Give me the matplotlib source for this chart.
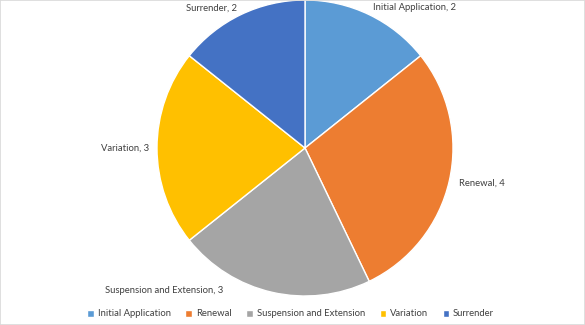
import matplotlib.pyplot as plt
from matplotlib.patches import Rectangle

plt.rcParams["font.family"] = ["Lato", "DejaVu Sans"]

categories = ["Initial Application", "Renewal", "Suspension and Extension", "Variation", "Surrender"]
values = [2, 4, 3, 3, 2]
colors = ["#5B9BD5", "#ED7D31", "#A5A5A5", "#FFC000", "#4472C4"]

# label placement (pie radius units) and alignment
label_pos = [(0.74, 0.95, "center"), (1.04, -0.24, "left"), (-0.95, -0.96, "center"),
             (-1.05, 0.0, "right"), (-0.635, 0.946, "center")]

W, H = 585, 325
cx, cy, r = 305, 148, 148

fig = plt.figure(figsize=(W / 100, H / 100), dpi=100)
ax = fig.add_axes([0, 0, 1, 1])
ax.axis("off")

wedges, _ = ax.pie(values, colors=colors, startangle=90, counterclock=False, radius=1.0,
                   wedgeprops=dict(edgecolor="white", linewidth=1))
ax.set_xlim(-cx / r, (W - cx) / r)
ax.set_ylim(-(H - cy) / r, cy / r)
ax.set_aspect("auto")

for cat, v, (lx, ly, ha) in zip(categories, values, label_pos):
    ax.text(lx, ly, f"{cat}, {v}", ha=ha, va="center", fontsize=6.8, color="#404040")

leg = fig.legend(wedges, categories, loc="center", bbox_to_anchor=(0.497, 1 - 314 / H), ncol=5,
                 frameon=False, fontsize=6.8, handlelength=0.7, handleheight=0.7,
                 handletextpad=0.4, columnspacing=1.55)
for t in leg.get_texts():
    t.set_color("#404040")

fig.patches.append(Rectangle((0, 0), 1, 1, transform=fig.transFigure, fill=False,
                             edgecolor="#D9D9D9", linewidth=1.2))

fig.savefig("out.png", dpi=100)
